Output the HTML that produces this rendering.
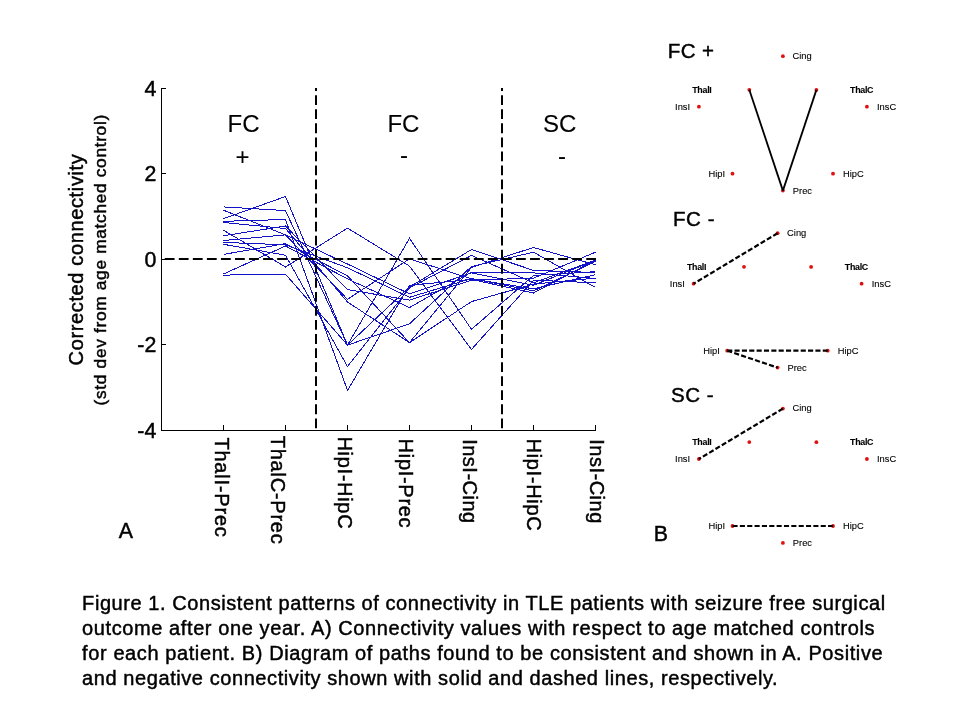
<!DOCTYPE html>
<html lang="en"><head><meta charset="utf-8"><title>Figure 1</title>
<style>html,body{margin:0;padding:0;background:#fff;}body{width:960px;height:720px;overflow:hidden;}svg{display:block;will-change:transform;}text{font-family:"Liberation Sans", Arial, Helvetica, sans-serif;fill:#000;stroke:#000;stroke-width:0.45px;}.sm text{stroke-width:0.1px;}</style>
</head><body>
<svg width="960" height="720" viewBox="0 0 960 720">
<rect width="960" height="720" fill="#ffffff"/>
<g id="chart">
<g fill="none" stroke="#1212c6" stroke-width="1" stroke-linejoin="miter" shape-rendering="crispEdges">
<polyline points="223.5,206.9 285.5,210.6 347.5,345.1 409.5,238.3 471.5,329.3 533.5,275.5 595.5,271.7"/>
<polyline points="223.5,218.7 285.5,196.5 347.5,345.1 409.5,287.0 471.5,249.5 533.5,270.4 595.5,272.5"/>
<polyline points="223.5,275.1 285.5,274.2 347.5,345.1 409.5,323.8 471.5,266.5 533.5,252.2 595.5,287.5"/>
<polyline points="223.5,230.2 285.5,267.0 347.5,228.1 409.5,266.1 471.5,349.4 533.5,280.2 595.5,282.8"/>
<polyline points="223.5,240.5 285.5,234.9 347.5,299.3 409.5,258.9 471.5,278.9 533.5,288.8 595.5,274.7"/>
<polyline points="223.5,222.5 285.5,228.5 347.5,302.0 409.5,342.6 471.5,301.6 533.5,284.1 595.5,278.1"/>
<polyline points="223.5,244.3 285.5,255.2 347.5,366.5 409.5,287.9 471.5,255.4 533.5,282.8 595.5,260.1"/>
<polyline points="223.5,221.3 285.5,219.5 347.5,390.4 409.5,285.3 471.5,279.4 533.5,293.0 595.5,260.1"/>
<polyline points="223.5,235.8 285.5,226.0 347.5,289.6 409.5,300.1 471.5,280.2 533.5,278.1 595.5,252.2"/>
<polyline points="223.5,210.2 285.5,234.9 347.5,264.0 409.5,293.9 471.5,272.9 533.5,285.3 595.5,260.1"/>
<polyline points="223.5,254.4 285.5,243.6 347.5,275.9 409.5,342.6 471.5,267.4 533.5,247.5 595.5,264.8"/>
<polyline points="223.5,242.4 285.5,244.8 347.5,267.8 409.5,297.3 471.5,278.5 533.5,290.9 595.5,261.4"/>
<polyline points="223.5,274.0 285.5,246.0 347.5,278.9 409.5,307.6 471.5,272.1 533.5,272.9 595.5,278.5"/>
</g>
<g stroke="#000" stroke-width="1" fill="none" shape-rendering="crispEdges">
<line x1="161.5" y1="88" x2="161.5" y2="431"/>
<line x1="161" y1="430.5" x2="596" y2="430.5"/>
<line x1="162" y1="88.5" x2="166" y2="88.5"/>
<line x1="162" y1="173.5" x2="166" y2="173.5"/>
<line x1="162" y1="259.5" x2="166" y2="259.5"/>
<line x1="162" y1="344.5" x2="166" y2="344.5"/>
<line x1="223.5" y1="430" x2="223.5" y2="425"/>
<line x1="285.5" y1="430" x2="285.5" y2="425"/>
<line x1="347.5" y1="430" x2="347.5" y2="425"/>
<line x1="409.5" y1="430" x2="409.5" y2="425"/>
<line x1="471.5" y1="430" x2="471.5" y2="425"/>
<line x1="533.5" y1="430" x2="533.5" y2="425"/>
<line x1="595.5" y1="430" x2="595.5" y2="425"/>
</g>
<g stroke="#000" stroke-width="2" fill="none" stroke-dasharray="9.8 4.25">
<line x1="161.7" y1="259" x2="596" y2="259" stroke-dashoffset="11"/>
<line x1="316" y1="87.9" x2="316" y2="430" stroke-dashoffset="6.7"/>
<line x1="502" y1="87.9" x2="502" y2="430" stroke-dashoffset="6.7"/>
</g>
<g font-size="21.33" text-anchor="end">
<text x="156.3" y="95.8">4</text>
<text x="156.3" y="180.8">2</text>
<text x="156.3" y="266.8">0</text>
<text x="156.3" y="351.8">-2</text>
<text x="156.3" y="437.8">-4</text>
</g>
<g class="sm" font-size="24" text-anchor="middle">
<text x="243.5" y="132.2">FC</text>
<text x="242.5" y="164.6">+</text>
<text x="403.4" y="132.2">FC</text>
<text x="404.1" y="163.0">-</text>
<text x="559.6" y="132.2">SC</text>
<text x="561.9" y="163.8">-</text>
</g>
<g font-size="20">
<text transform="translate(214.6 437.4) rotate(90)" textLength="99.4">ThalI-Prec</text>
<text transform="translate(270.8 435.7) rotate(90)" textLength="108.0">ThalC-Prec</text>
<text transform="translate(338.1 436.4) rotate(90)" textLength="92.2">HipI-HipC</text>
<text transform="translate(399.3 438.6) rotate(90)" textLength="89.0">HipI-Prec</text>
<text transform="translate(463.0 439.2) rotate(90)" textLength="84.0">InsI-Cing</text>
<text transform="translate(527.2 438.5) rotate(90)" textLength="92.2">HipI-HipC</text>
<text transform="translate(590.4 439.3) rotate(90)" textLength="84.0">InsI-Cing</text>
</g>
<text font-size="20" transform="translate(82.8 365.4) rotate(-90)" textLength="211.2">Corrected connectivity</text>
<text font-size="17.33" transform="translate(106.0 405.4) rotate(-90)" textLength="290.6">(std dev from age matched control)</text>
<text font-size="21.33" x="118.8" y="538.4">A</text>
</g>
<g id="diagrams">
<g>
<text font-size="20.5" x="667.8" y="57.7" textLength="46.3">FC +</text>
<circle cx="782.9" cy="56.2" r="1.9" fill="#e01010"/>
<circle cx="749.3" cy="89.8" r="1.9" fill="#e01010"/>
<circle cx="816.4" cy="89.9" r="1.9" fill="#e01010"/>
<circle cx="698.9" cy="106.7" r="1.9" fill="#e01010"/>
<circle cx="866.9" cy="106.7" r="1.9" fill="#e01010"/>
<circle cx="732.5" cy="173.7" r="1.9" fill="#e01010"/>
<circle cx="833.0" cy="173.7" r="1.9" fill="#e01010"/>
<circle cx="782.9" cy="190.6" r="1.9" fill="#e01010"/>
<line x1="749.3" y1="89.8" x2="782.9" y2="190.6" stroke="#000" stroke-width="1.8"/>
<line x1="816.4" y1="89.9" x2="782.9" y2="190.6" stroke="#000" stroke-width="1.8"/>
<g class="sm" font-size="9.33">
<text x="792.4" y="58.9">Cing</text>
<text x="692.2" y="93.0" font-size="8.9" font-weight="bold" textLength="19.6">ThalI</text>
<text x="850.1" y="93.1" font-size="8.9" font-weight="bold" textLength="23.4">ThalC</text>
<text x="675.1" y="110.0">InsI</text>
<text x="877.0" y="110.0">InsC</text>
<text x="708.5" y="177.0">HipI</text>
<text x="843.0" y="177.0">HipC</text>
<text x="792.8" y="193.9">Prec</text>
</g>
</g>
<g>
<text font-size="20.5" x="672.9" y="225.6" textLength="41.6">FC -</text>
<circle cx="777.6" cy="233.2" r="1.9" fill="#e01010"/>
<circle cx="744.0" cy="266.8" r="1.9" fill="#e01010"/>
<circle cx="811.1" cy="266.9" r="1.9" fill="#e01010"/>
<circle cx="693.6" cy="283.7" r="1.9" fill="#e01010"/>
<circle cx="861.6" cy="283.7" r="1.9" fill="#e01010"/>
<circle cx="727.2" cy="350.7" r="1.9" fill="#e01010"/>
<circle cx="827.7" cy="350.7" r="1.9" fill="#e01010"/>
<circle cx="777.6" cy="367.6" r="1.9" fill="#e01010"/>
<line x1="777.6" y1="233.2" x2="693.6" y2="283.7" stroke="#000" stroke-width="2.2" stroke-dasharray="5.1 2.25"/>
<line x1="727.2" y1="350.7" x2="827.7" y2="350.7" stroke="#000" stroke-width="2.2" stroke-dasharray="5.1 2.25"/>
<line x1="727.2" y1="350.7" x2="777.6" y2="367.6" stroke="#000" stroke-width="2.2" stroke-dasharray="5.1 2.25"/>
<g class="sm" font-size="9.33">
<text x="787.1" y="235.8">Cing</text>
<text x="686.9" y="270.0" font-size="8.9" font-weight="bold" textLength="19.6">ThalI</text>
<text x="844.8" y="270.1" font-size="8.9" font-weight="bold" textLength="23.4">ThalC</text>
<text x="669.8" y="287.0">InsI</text>
<text x="871.7" y="287.0">InsC</text>
<text x="703.2" y="354.0">HipI</text>
<text x="837.7" y="354.0">HipC</text>
<text x="787.5" y="370.9">Prec</text>
</g>
</g>
<g>
<text font-size="20.5" x="670.9" y="402.2" textLength="42.8">SC -</text>
<circle cx="782.9" cy="408.6" r="1.9" fill="#e01010"/>
<circle cx="749.3" cy="442.1" r="1.9" fill="#e01010"/>
<circle cx="816.4" cy="442.2" r="1.9" fill="#e01010"/>
<circle cx="698.9" cy="459.0" r="1.9" fill="#e01010"/>
<circle cx="866.9" cy="459.0" r="1.9" fill="#e01010"/>
<circle cx="732.5" cy="526.0" r="1.9" fill="#e01010"/>
<circle cx="833.0" cy="526.0" r="1.9" fill="#e01010"/>
<circle cx="782.9" cy="542.9" r="1.9" fill="#e01010"/>
<line x1="782.9" y1="408.6" x2="698.9" y2="459.0" stroke="#000" stroke-width="2.2" stroke-dasharray="5.1 2.25"/>
<line x1="732.5" y1="526.0" x2="833.0" y2="526.0" stroke="#000" stroke-width="2.2" stroke-dasharray="5.1 2.25"/>
<g class="sm" font-size="9.33">
<text x="792.4" y="411.2">Cing</text>
<text x="692.2" y="445.3" font-size="8.9" font-weight="bold" textLength="19.6">ThalI</text>
<text x="850.1" y="445.4" font-size="8.9" font-weight="bold" textLength="23.4">ThalC</text>
<text x="675.1" y="462.3">InsI</text>
<text x="877.0" y="462.3">InsC</text>
<text x="708.5" y="529.3">HipI</text>
<text x="843.0" y="529.3">HipC</text>
<text x="792.8" y="546.2">Prec</text>
</g>
</g>
<text font-size="21.33" x="653.8" y="540.7">B</text>
</g>
<g id="caption" font-size="20">
<text x="82.1" y="609.8" textLength="803.0">Figure 1. Consistent patterns of connectivity in TLE patients with seizure free surgical</text>
<text x="82.1" y="635.0" textLength="792.5">outcome after one year. A) Connectivity values with respect to age matched controls</text>
<text x="82.1" y="660.2" textLength="800.5">for each patient. B) Diagram of paths found to be consistent and shown in A. Positive</text>
<text x="82.1" y="685.4" textLength="695.5">and negative connectivity shown with solid and dashed lines, respectively.</text>
</g>
</svg>
</body></html>
